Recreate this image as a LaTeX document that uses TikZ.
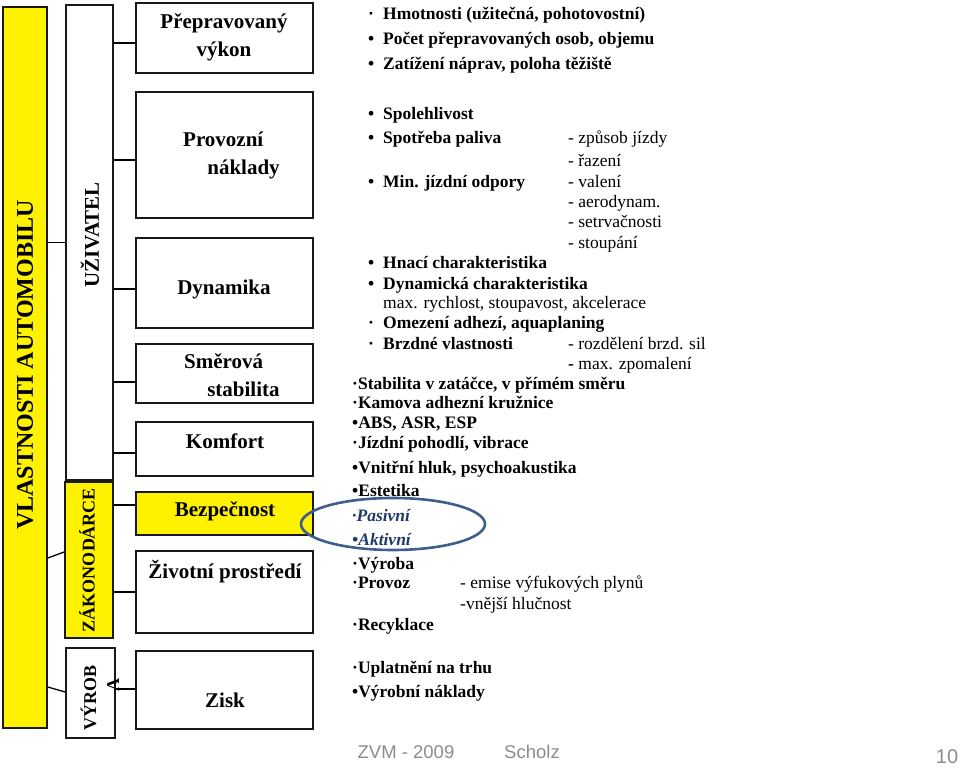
\documentclass[tikz,border=0pt]{standalone}
\usepackage{fontspec}
\setmainfont{Liberation Serif}
\newfontfamily\footfont{Liberation Sans}
\usepackage{xcolor}
\definecolor{ringblue}{HTML}{3F5E8C}
\definecolor{textblue}{HTML}{1F3A6B}
\definecolor{footgray}{HTML}{8C8C8C}

\begin{document}
\begin{tikzpicture}[x=1pt,y=-1pt,
  box/.style={draw=black!90,line width=1.6pt,inner sep=0pt},
  ybox/.style={box,fill=yellow},
  lbl/.style={inner sep=0pt,font=\fontsize{21}{28}\selectfont\bfseries},
  rlbl/.style={inner sep=0pt,rotate=90,font=\fontsize{18}{23}\selectfont\bfseries},
  itm/.style={anchor=base west,inner sep=0pt,font=\fontsize{17.5}{20}\selectfont\bfseries},
  sub/.style={anchor=base west,inner sep=0pt,font=\fontsize{17.5}{20}\selectfont},
  foot/.style={inner sep=0pt,text=footgray,font=\footfont\fontsize{18.5}{20}\selectfont},
  link/.style={line width=1.3pt}]
  \useasboundingbox (0,0) rectangle (960,767);
  % left column
  \node[ybox,minimum width=44,minimum height=721] (vlast) at (25,367.5) {};
  \node[box,minimum width=47,minimum height=475] (uziv) at (89.5,242.5) {};
  \node[ybox,minimum width=48,minimum height=156] (zakon) at (89,560) {};
  \node[box,minimum width=49,minimum height=90] (vyroba) at (90.5,693) {};
  \node[rlbl,font=\fontsize{24}{28}\selectfont\bfseries] (vlastT) at (25,365) {VLASTNOSTI AUTOMOBILU};
  \node[rlbl,font=\fontsize{21}{26}\selectfont\bfseries] (uzivT) at (90,235) {UŽIVATEL};
  \node[rlbl] (zakonT) at (87,560) {ZÁKONODÁRCE};
  \node[rlbl,align=center] (vyrobaT) at (100,698) {VÝROB\\\hspace*{1.5em}A};
  % category boxes
  \node[box,minimum width=177,minimum height=70] (prep) at (224.5,38) {};
  \node[box,minimum width=177,minimum height=126] (prov) at (224.5,155) {};
  \node[box,minimum width=177,minimum height=90] (dyn) at (224.5,283) {};
  \node[box,minimum width=177,minimum height=59] (smer) at (224.5,373.5) {};
  \node[box,minimum width=177,minimum height=54] (komf) at (224.5,449) {};
  \node[ybox,minimum width=177,minimum height=43] (bezp) at (224.5,513.5) {};
  \node[box,minimum width=177,minimum height=82] (zivot) at (224.5,592) {};
  \node[box,minimum width=177,minimum height=78] (zisk) at (224.5,690) {};
  \node[lbl,align=center] (prepT) at (224,37.5) {Přepravovaný\\výkon};
  \node[lbl,align=left,anchor=west] (provT) at (183,155) {Provozní\\\hspace*{1.15em}náklady};
  \node[lbl] (dynT) at (224,289) {Dynamika};
  \node[lbl,align=left,anchor=west] (smerT) at (184,375) {Směrová\\\hspace*{1.1em}stabilita};
  \node[lbl] (komfT) at (225,441) {Komfort};
  \node[lbl] (bezpT) at (225,511) {Bezpečnost};
  \node[lbl] (zivotT) at (225,572) {Životní prostředí};
  \node[lbl] (ziskT) at (225,700) {Zisk};
  % connectors
  \draw[link] (vlast.east |- uziv.west) -- (uziv.west);
  \draw[link] (vlast.east |- 0,558) -- (zakon.west |- 0,552);
  \draw[link] (vlast.east |- 0,687) -- (vyroba.west |- 0,692);
  \draw[link] (uziv.east |- 0,43) -- (prep.west |- 0,43);
  \draw[link] (uziv.east |- 0,160) -- (prov.west |- 0,160);
  \draw[link] (uziv.east |- 0,289) -- (dyn.west |- 0,289);
  \draw[link] (uziv.east |- 0,382) -- (smer.west |- 0,382);
  \draw[link] (uziv.east |- 0,453) -- (komf.west |- 0,453);
  \draw[link] (zakon.east |- 0,505) -- (bezp.west |- 0,505);
  \draw[link] (zakon.east |- 0,592) -- (zivot.west |- 0,592);
  \draw[link] (vyroba.east |- 0,689) -- (zisk.west |- 0,689);
  % items
  \node[itm] (hmot) at (368,20) {\makebox[15pt][l]{·}Hmotnosti (užitečná, pohotovostní)};
  \node[itm] (pocet) at (368,45) {\makebox[15pt][l]{•}Počet přepravovaných osob, objemu};
  \node[itm] (zatiz) at (368,70) {\makebox[15pt][l]{•}Zatížení náprav, poloha těžiště};
  \node[itm] (spol) at (368,120) {\makebox[15pt][l]{•}Spolehlivost};
  \node[itm] (spotr) at (368,144) {\makebox[15pt][l]{•}Spotřeba paliva};
  \node[sub] (zpus) at (568,144) {- způsob jízdy};
  \node[sub] (raz) at (568,167) {- řazení};
  \node[itm] (minj) at (368,188) {\makebox[15pt][l]{•}Min. jízdní odpory};
  \node[sub] (val) at (568,188) {- valení};
  \node[sub] (aero) at (568,208) {- aerodynam.};
  \node[sub] (setr) at (568,228) {- setrvačnosti};
  \node[sub] (stou) at (568,248) {- stoupání};
  \node[itm] (hnac) at (368,268) {\makebox[15pt][l]{•}Hnací charakteristika};
  \node[itm] (dynch) at (368,289) {\makebox[15pt][l]{•}Dynamická charakteristika};
  \node[sub] (maxr) at (383,308) {max. rychlost, stoupavost, akcelerace};
  \node[itm] (omez) at (368,328) {\makebox[15pt][l]{·}Omezení adhezí, aquaplaning};
  \node[itm] (brzd) at (368,349) {\makebox[15pt][l]{·}Brzdné vlastnosti};
  \node[sub] (rozd) at (568,349) {- rozdělení brzd. sil};
  \node[sub] (zpom) at (568,369) {\textbf{-} max. zpomalení};
  \node[itm] (stab) at (352,389) {·Stabilita v zatáčce, v přímém směru};
  \node[itm] (kam) at (352,408) {·Kamova adhezní kružnice};
  \node[itm] (abs) at (352,428) {•ABS, ASR, ESP};
  \node[itm] (jizd) at (352,448) {·Jízdní pohodlí, vibrace};
  \node[itm] (vnitr) at (352,473) {•Vnitřní hluk, psychoakustika};
  \node[itm] (estet) at (352,496) {•Estetika};
  \node[itm,text=textblue,font=\fontsize{17.5}{20}\selectfont\bfseries\itshape] (pas) at (352,521) {·Pasivní};
  \node[itm,text=textblue,font=\fontsize{17.5}{20}\selectfont\bfseries\itshape] (akt) at (352,545) {•Aktivní};
  \node[itm] (vyrb) at (352,569) {·Výroba};
  \node[itm] (provz) at (352,588) {·Provoz};
  \node[sub] (emis) at (460,588) {- emise výfukových plynů};
  \node[sub] (hluc) at (460,609) {-vnější hlučnost};
  \node[itm] (recy) at (352,630) {·Recyklace};
  \node[itm] (upl) at (352,673) {·Uplatnění na trhu};
  \node[itm] (vyrn) at (352,697) {•Výrobní náklady};
  % ring round the safety items
  \draw[ringblue,line width=2.6pt] (393,524) ellipse [x radius=92,y radius=26];
  % footer
  \node[foot] (zvm) at (406,752) {ZVM - 2009};
  \node[foot] (autor) at (532,752) {Scholz};
  \node[foot,font=\footfont\fontsize{20}{22}\selectfont] (cislo) at (947,757) {10};
\end{tikzpicture}
\end{document}
